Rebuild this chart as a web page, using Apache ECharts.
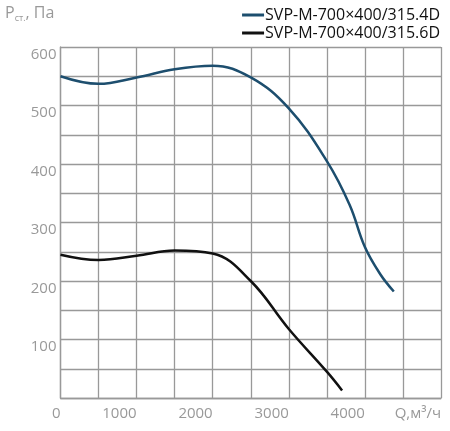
<!DOCTYPE html><html><head><meta charset="utf-8"><script src="https://cdn.jsdelivr.net/npm/echarts@6/dist/echarts.min.js"></script>
<style>html,body{margin:0;background:#fff}#c{width:450px;height:431px}</style></head><body><div id="c"></div><script>
const names=['SVP-M-700×400/315.4D','SVP-M-700×400/315.6D'];
const blue=[[0,550],[500,537],[1000,548],[1500,562],[2000,568],[2500,548],[3000,495],[3500,405],[3800,330],[4000,258],[4200,212],[4380,182]];
const black=[[0,245],[500,236],[1000,243],[1500,252],[2000,247],[2500,200],[3000,118],[3500,45],[3700,13]];
const xLabels={0:'0',1000:'1000',2000:'2000',3000:'3000',4000:'4000',5000:'Q,м³/ч'};
const yLabels={100:'100',200:'200',300:'300',400:'400',500:'500',600:'600'};
const ch=echarts.init(document.getElementById('c'));
const f='"Open Sans", sans-serif';
ch.setOption({animation:false,
grid:{left:60.5,right:9,top:47,bottom:33},
graphic:[{type:'text',left:5,top:5,style:{text:'{p|P}{s|ст.}{p|, Па}',rich:{p:{fontSize:16,fill:'#999',fontFamily:f},s:{fontSize:9,fill:'#999',fontFamily:f,padding:[10,0,0,0]}}}}],
legend:{orient:'vertical',right:5,top:2,itemGap:2,itemWidth:22,itemHeight:3,icon:'rect',
 textStyle:{fontSize:16,color:'#111',fontFamily:f,padding:[0,0,0,-4]},data:names},
xAxis:{type:'value',min:0,max:5000,interval:500,
 axisLine:{lineStyle:{color:'#999',width:1.3}},axisTick:{show:false},
 splitLine:{lineStyle:{color:'#999',width:1.3}},
 axisLabel:{showMaxLabel:true,showMinLabel:true,align:'right',margin:8,fontSize:15,color:'#999',fontFamily:f,formatter:v=>xLabels[v]||''}},
yAxis:{type:'value',min:0,max:600,interval:50,
 axisLine:{show:true,lineStyle:{color:'#999',width:1.3}},axisTick:{show:false},
 splitLine:{lineStyle:{color:'#999',width:1.3}},
 axisLabel:{verticalAlign:'top',margin:4,fontSize:15,color:'#999',fontFamily:f,formatter:v=>yLabels[v]||''}},
series:[{name:names[0],type:'line',smooth:0.4,symbol:'none',data:blue,color:'#1d4e6e',lineStyle:{width:2.5}},
{name:names[1],type:'line',smooth:0.4,symbol:'none',data:black,color:'#111',lineStyle:{width:2.5}}]});
</script></body></html>
